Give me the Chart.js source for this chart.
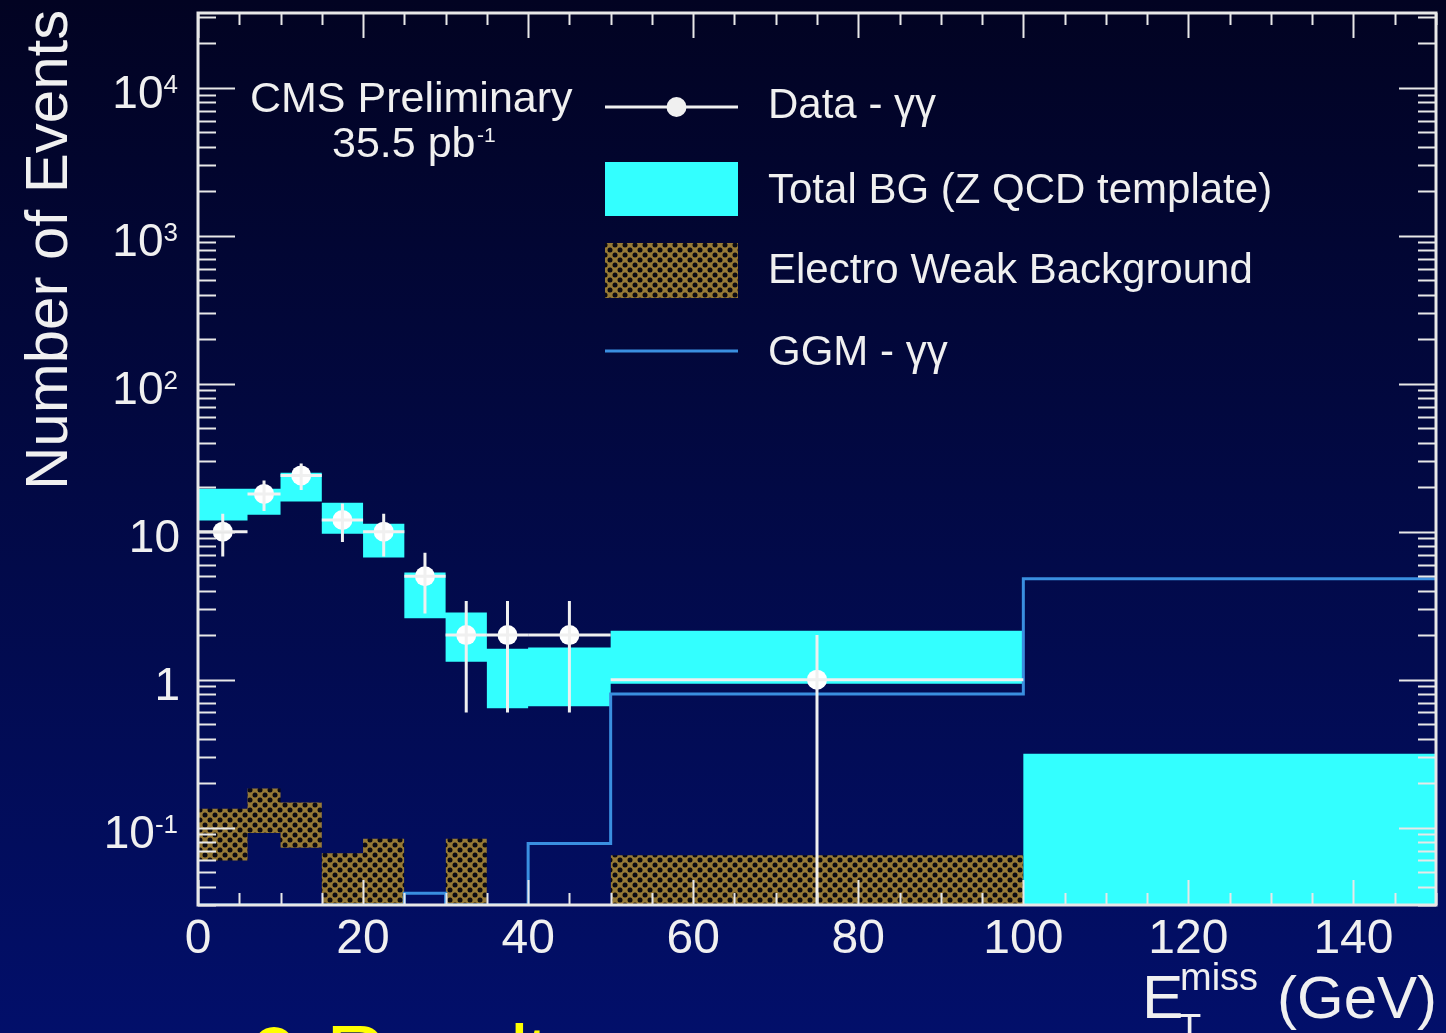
<!DOCTYPE html>
<html>
<head>
<meta charset="utf-8">
<script src="https://cdn.jsdelivr.net/npm/chart.js@4.4.1/dist/chart.umd.min.js"></script>
<style>
  html, body { margin: 0; padding: 0; width: 1446px; height: 1033px; overflow: hidden;
    background: linear-gradient(to bottom, #020322 0%, #020a4a 55%, #020f6a 100%); }
  #c { position: absolute; left: 0; top: 0; }
  #results { position: absolute; left: 326px; top: 1013px; margin: 0; color: #ffff00;
    font: 84px/84px "Liberation Sans", Arial, sans-serif; letter-spacing: -3px; white-space: nowrap; }
  #bullet { position: absolute; left: 253px; top: 1027px; width: 42px; height: 42px;
    border-radius: 50%; background: #ffff00; }
</style>
</head>
<body>
<canvas id="c" width="1446" height="1033"></canvas>
<div id="bullet"></div>
<div id="results">Results</div>
<script>
// Bin edges of the missing transverse energy histogram (GeV)
const binEdges = [0, 6, 10, 15, 20, 25, 30, 35, 40, 50, 100, 150];

// Observed diphoton events per bin with their uncertainties
const dataCounts  = [10, 18, 24, 12, 10, 5, 2, 2, 2, 1, null];
const dataErrUp   = [3.2, 4.2, 4.9, 3.5, 3.2, 2.2, 1.4, 1.4, 1.4, 1.0, null];
const dataErrDown = [3.2, 4.2, 4.9, 3.5, 3.2, 2.2, 1.4, 1.4, 1.4, 1.0, null];

// Total background band (Z QCD template), lower and upper edge
const bgLow  = [11.9, 13.0, 16.0, 9.7, 6.7, 2.6, 1.32, 0.64, 0.66, 0.94, 0.01];
const bgHigh = [19.5, 19.5, 25.0, 15.7, 11.3, 5.3, 2.84, 1.62, 1.65, 2.14, 0.316];

// Electroweak background band, lower and upper edge
const ewLow  = [0.060, 0.092, 0.073, 0.01, 0.01, null, 0.01, null, null, 0.01, null];
const ewHigh = [0.134, 0.184, 0.148, 0.067, 0.084, null, 0.084, null, null, 0.065, null];

// GGM diphoton signal expectation
const ggmSignal = [0.03, 0.03, 0.03, 0.03, 0.03, 0.036, 0.03, 0.03, 0.078, 0.80, 4.8];

// Axis ticks
const xTickValues = [0, 20, 40, 60, 80, 100, 120, 140];
const yDecades = [-1, 0, 1, 2, 3, 4];

const FONT = '"Liberation Sans", Arial, Helvetica, sans-serif';
const WHITE = '#f0f0f0';
const CYAN = '#33ffff';
const GGM_BLUE = '#3a8fe0';

// Histogram outline: each bin contributes its two edges, empty bins break the line
function histPoints(edges, vals) {
  const pts = [];
  vals.forEach((v, i) => {
    if (v == null) { pts.push({ x: edges[i], y: null }); return; }
    pts.push({ x: edges[i], y: v }, { x: edges[i + 1], y: v });
  });
  return pts;
}

const dataPoints = [];
dataCounts.forEach((n, i) => {
  if (n != null) dataPoints.push({ x: (binEdges[i] + binEdges[i + 1]) / 2, y: n });
});

// Cross-hatch fill used for the electroweak background
function makeHatch() {
  const s = 10;
  const c = document.createElement('canvas');
  c.width = s; c.height = s;
  const g = c.getContext('2d');
  g.fillStyle = '#977a36';
  g.fillRect(0, 0, s, s);
  g.fillStyle = '#0b0a12';
  [[0, 0], [s, 0], [0, s], [s, s], [s / 2, s / 2]].forEach(([px, py]) => {
    g.beginPath(); g.arc(px, py, 2.5, 0, Math.PI * 2); g.fill();
  });
  return g.createPattern(c, 'repeat');
}
const hatch = makeHatch();

// Error bars of the data points
const errorBars = {
  id: 'errorBars',
  afterDatasetsDraw(chart) {
    const { ctx, chartArea: a, scales: { x, y } } = chart;
    ctx.save();
    ctx.beginPath(); ctx.rect(a.left, a.top, a.right - a.left, a.bottom - a.top); ctx.clip();
    ctx.strokeStyle = WHITE; ctx.lineWidth = 3;
    dataCounts.forEach((n, i) => {
      if (n == null) return;
      const cx = x.getPixelForValue((binEdges[i] + binEdges[i + 1]) / 2);
      const cy = y.getPixelForValue(n);
      const lo = n - dataErrDown[i];
      const yl = lo > 0 ? y.getPixelForValue(lo) : a.bottom;
      const yh = y.getPixelForValue(n + dataErrUp[i]);
      ctx.beginPath();
      ctx.moveTo(x.getPixelForValue(binEdges[i]), cy);
      ctx.lineTo(x.getPixelForValue(binEdges[i + 1]), cy);
      ctx.moveTo(cx, yh); ctx.lineTo(cx, yl);
      ctx.stroke();
    });
    ctx.restore();
  }
};

// Frame with inward ticks on all four sides, log labels with exponents
const frame = {
  id: 'frame',
  afterDraw(chart) {
    const { ctx, chartArea: a, scales: { x, y } } = chart;
    ctx.save();
    ctx.strokeStyle = '#e8e8e8';
    ctx.lineWidth = 2;
    ctx.beginPath();
    for (let v = x.min; v <= x.max; v += 5) {
      const px = Math.round(x.getPixelForValue(v)) + 0.5;
      const len = v % 20 === 0 ? 25 : 12;
      ctx.moveTo(px, a.bottom); ctx.lineTo(px, a.bottom - len);
      ctx.moveTo(px, a.top); ctx.lineTo(px, a.top + len);
    }
    for (let d = -2; d <= 5; d++) {
      for (let k = 1; k <= 9; k++) {
        const v = k * Math.pow(10, d);
        if (v < y.min || v > y.max) continue;
        const py = Math.round(y.getPixelForValue(v)) + 0.5;
        const len = k === 1 ? 37 : 18;
        ctx.moveTo(a.left, py); ctx.lineTo(a.left + len, py);
        ctx.moveTo(a.right, py); ctx.lineTo(a.right - len, py);
      }
    }
    ctx.stroke();
    ctx.lineWidth = 3;
    ctx.strokeRect(a.left, a.top, a.right - a.left, a.bottom - a.top);

    // y tick labels
    ctx.fillStyle = WHITE;
    ctx.textBaseline = 'alphabetic';
    const right = 178;
    yDecades.forEach(n => {
      const ty = y.getPixelForValue(Math.pow(10, n));
      if (n === 0 || n === 1) {
        ctx.font = '46px ' + FONT; ctx.textAlign = 'right';
        ctx.fillText(n === 0 ? '1' : '10', right + 2, ty + 20);
      } else {
        ctx.font = '26px ' + FONT; ctx.textAlign = 'right';
        const ex = String(n);
        const ew = ctx.measureText(ex).width;
        ctx.fillText(ex, right, ty + 5);
        ctx.font = '46px ' + FONT;
        ctx.fillText('10', right - ew, ty + 20);
      }
    });

    // axis titles
    ctx.textAlign = 'left';
    ctx.save();
    ctx.translate(67, 490);
    ctx.rotate(-Math.PI / 2);
    ctx.font = '60px ' + FONT;
    ctx.fillText('Number of Events', 0, 0);
    ctx.restore();

    ctx.font = '62px ' + FONT;
    ctx.fillText('E', 1142, 1018);
    ctx.font = '38px ' + FONT;
    ctx.fillText('miss', 1180, 990);
    ctx.fillText('T', 1178, 1041);
    ctx.font = '60px ' + FONT;
    ctx.fillText('(GeV)', 1277, 1018);

    // experiment label
    ctx.font = '43px ' + FONT;
    ctx.fillText('CMS Preliminary', 250, 112);
    ctx.fillText('35.5 pb', 332, 157);
    ctx.font = '21px ' + FONT;
    ctx.fillText('-1', 477, 142);

    // legend
    const lx0 = 605, lx1 = 738, tx = 768;
    ctx.font = '42px ' + FONT;
    ctx.fillStyle = WHITE;
    ctx.fillText('Data - \u03b3\u03b3', tx, 118);
    ctx.fillText('Total BG (Z QCD template)', tx, 203);
    ctx.fillText('Electro Weak Background', tx, 283);
    ctx.fillText('GGM - \u03b3\u03b3', tx, 365);

    ctx.strokeStyle = WHITE; ctx.lineWidth = 3;
    ctx.beginPath(); ctx.moveTo(lx0, 107); ctx.lineTo(lx1, 107); ctx.stroke();
    ctx.beginPath(); ctx.arc((lx0 + lx1) / 2 + 5, 107, 10, 0, Math.PI * 2); ctx.fill();

    ctx.fillStyle = CYAN;
    ctx.fillRect(lx0, 162, lx1 - lx0, 54);
    ctx.fillStyle = hatch;
    ctx.fillRect(lx0, 243, lx1 - lx0, 55);

    ctx.strokeStyle = GGM_BLUE;
    ctx.beginPath(); ctx.moveTo(lx0, 351); ctx.lineTo(lx1, 351); ctx.stroke();
    ctx.restore();
  }
};

new Chart(document.getElementById('c'), {
  type: 'line',
  data: {
    datasets: [
      { label: 'bg low', data: histPoints(binEdges, bgLow), borderColor: 'transparent', borderWidth: 0,
        pointRadius: 0, fill: false, order: 4 },
      { label: 'Total BG (Z QCD template)', data: histPoints(binEdges, bgHigh), borderColor: 'transparent',
        borderWidth: 0, pointRadius: 0, fill: '-1', backgroundColor: CYAN, order: 4 },
      { label: 'ew low', data: histPoints(binEdges, ewLow), borderColor: 'transparent', borderWidth: 0,
        pointRadius: 0, fill: false, order: 3 },
      { label: 'Electro Weak Background', data: histPoints(binEdges, ewHigh), borderColor: 'transparent',
        borderWidth: 0, pointRadius: 0, fill: '-1', backgroundColor: hatch, order: 3 },
      { label: 'GGM - \u03b3\u03b3', data: histPoints(binEdges, ggmSignal), borderColor: GGM_BLUE,
        borderWidth: 3, pointRadius: 0, fill: false, order: 2 },
      { type: 'scatter', label: 'Data - \u03b3\u03b3', data: dataPoints, pointRadius: 10,
        backgroundColor: '#ffffff', borderWidth: 0, showLine: false, order: 1 }
    ]
  },
  options: {
    responsive: false,
    devicePixelRatio: 1,
    animation: false,
    events: [],
    layout: { padding: { top: 13, right: 9, left: 0, bottom: 0 } },
    plugins: { legend: { display: false }, tooltip: { enabled: false } },
    scales: {
      x: {
        type: 'linear', min: 0, max: 150,
        afterBuildTicks: s => { s.ticks = xTickValues.map(v => ({ value: v })); },
        afterFit: s => { s.height = 128; },
        grid: { display: false, drawTicks: false },
        border: { display: false },
        ticks: { color: WHITE, font: { family: FONT, size: 48 }, padding: 6, maxRotation: 0, autoSkip: false }
      },
      y: {
        type: 'logarithmic', min: 0.03, max: 32000,
        afterFit: s => { s.width = 198; },
        grid: { display: false, drawTicks: false },
        border: { display: false },
        ticks: { display: false }
      }
    }
  },
  plugins: [errorBars, frame]
});
</script>
</body>
</html>
